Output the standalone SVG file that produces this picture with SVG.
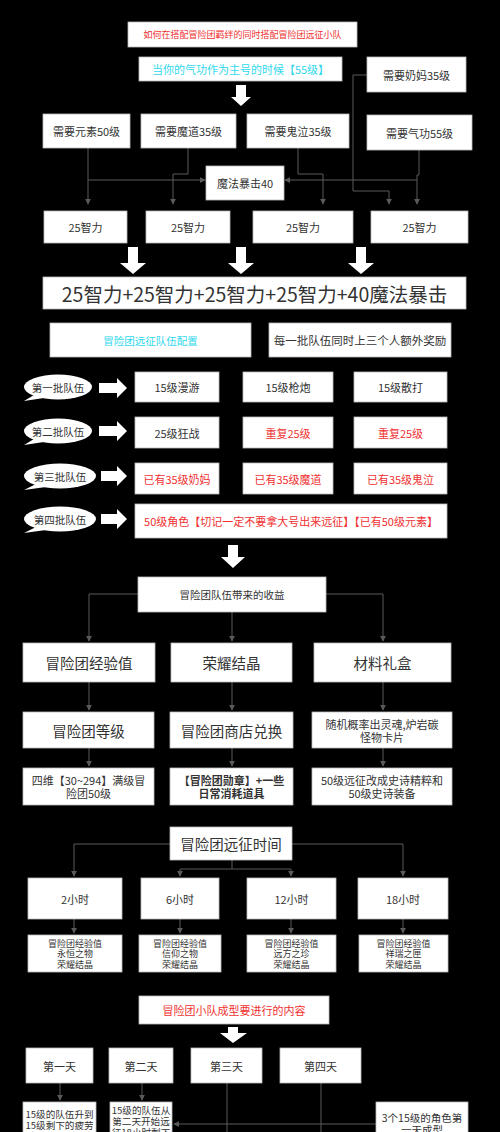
<svg xmlns="http://www.w3.org/2000/svg" width="500" height="1132" viewBox="0 0 500 1132">
<defs>
<style>
text{font-family:"Noto Sans CJK SC","Noto Sans",sans-serif;fill:#333;text-anchor:middle;dominant-baseline:central}
.box{fill:#fff;stroke:#bbb;stroke-width:0.8}
.red{fill:#f03030}
.cyan{fill:#30d8ec}
.conn{fill:none;stroke:#5a5a5a;stroke-width:1}
.blk{fill:#fff}
.s9{font-size:9px}.s95{font-size:9.6px}.s10{font-size:10.5px}.s11{font-size:11px}.s12{font-size:11.5px}.s14{font-size:14.5px}.s19{font-size:19.5px}
</style>
<marker id="ah" viewBox="0 0 8 8" refX="7" refY="4" markerWidth="6" markerHeight="6" markerUnits="userSpaceOnUse" orient="auto"><path d="M0,0 L8,4 L0,8 Z" fill="#5a5a5a"/></marker>
</defs>
<rect width="500" height="1132" fill="#000"/>

<g id="connectors">
<path class="conn" d="M367,75 H353 V191 H389 V204" marker-end="url(#ah)"/>
<path class="conn" d="M88,148 V204" marker-end="url(#ah)"/>
<path class="conn" d="M88,180 H205" marker-end="url(#ah)"/>
<path class="conn" d="M188,148 V174 H173 V204" marker-end="url(#ah)"/>
<path class="conn" d="M298,148 V174 H323 V204" marker-end="url(#ah)"/>
<path class="conn" d="M419,150 V175 H417 V204" marker-end="url(#ah)"/>
<path class="conn" d="M417,180 H285" marker-end="url(#ah)"/>

<path class="conn" d="M138,594 H89 V641" marker-end="url(#ah)"/>
<path class="conn" d="M232,612 V641" marker-end="url(#ah)"/>
<path class="conn" d="M326,594 H383 V641" marker-end="url(#ah)"/>
<path class="conn" d="M89,682 V710" marker-end="url(#ah)"/>
<path class="conn" d="M232,682 V710" marker-end="url(#ah)"/>
<path class="conn" d="M383,682 V710" marker-end="url(#ah)"/>
<path class="conn" d="M89,748 V766" marker-end="url(#ah)"/>
<path class="conn" d="M232,748 V766" marker-end="url(#ah)"/>
<path class="conn" d="M383,748 V766" marker-end="url(#ah)"/>

<path class="conn" d="M170,844 H74 V876" marker-end="url(#ah)"/>
<path class="conn" d="M292,844 H403 V876" marker-end="url(#ah)"/>
<path class="conn" d="M232,860 V869 M180,869 H291"/>
<path class="conn" d="M180,869 V876" marker-end="url(#ah)"/>
<path class="conn" d="M291,869 V876" marker-end="url(#ah)"/>
<path class="conn" d="M74,919 V933" marker-end="url(#ah)"/>
<path class="conn" d="M180,919 V933" marker-end="url(#ah)"/>
<path class="conn" d="M291,919 V933" marker-end="url(#ah)"/>
<path class="conn" d="M403,919 V933" marker-end="url(#ah)"/>

<path class="conn" d="M60,1083 V1100" marker-end="url(#ah)"/>
<path class="conn" d="M142,1083 V1100" marker-end="url(#ah)"/>
<path class="conn" d="M227,1083 V1132"/>
<path class="conn" d="M321,1083 V1132"/>
<path class="conn" d="M376,1124 H174" marker-end="url(#ah)"/>
</g>

<g id="block-arrows">
<polygon class="blk" points="236,85 246,85 246,97 251,97 241,106 231,97 236,97"/>
<polygon class="blk" points="128,247 138,247 138,263 146,263 133,274 120,263 128,263"/>
<polygon class="blk" points="236,247 246,247 246,263 254,263 241,274 228,263 236,263"/>
<polygon class="blk" points="356,247 366,247 366,263 374,263 361,274 348,263 356,263"/>
<polygon class="blk" points="228,545 238,545 238,557 245,557 233,568 221,557 228,557"/>
<polygon class="blk" points="228,1027 238,1027 238,1033 247,1033 233,1043 220,1033 228,1033"/>
<polygon class="blk" points="99,383 117,383 117,378 127,388 117,398 117,393 99,393"/>
<polygon class="blk" points="99,426 117,426 117,421 127,431 117,441 117,436 99,436"/>
<polygon class="blk" points="101,471 117,471 117,466 127,476 117,486 117,481 101,481"/>
<polygon class="blk" points="101,514 117,514 117,509 127,519 117,529 117,524 101,524"/>
</g>

<g id="n-title"><rect class="box" x="128" y="22" width="229" height="25"/><text class="s9 red" x="242.5" y="34.5">如何在搭配冒险团羁绊的同时搭配冒险团远征小队</text></g>
<g id="n-qigong"><rect class="box" x="139" y="57" width="203" height="24"/><text class="s11 cyan" x="240.5" y="69">当你的气功作为主号的时候【55级】</text></g>
<g id="n-nanny"><rect class="box" x="367" y="57" width="99" height="35"/><text class="s11" x="416.5" y="74.5">需要奶妈35级</text></g>

<g id="n-elem"><rect class="box" x="43" y="114" width="87" height="34"/><text class="s11" x="86.5" y="131">需要元素50级</text></g>
<g id="n-modao"><rect class="box" x="141" y="114" width="95" height="34"/><text class="s11" x="188.5" y="131">需要魔道35级</text></g>
<g id="n-guiqi"><rect class="box" x="247" y="114" width="102" height="34"/><text class="s11" x="298" y="131">需要鬼泣35级</text></g>
<g id="n-qg55"><rect class="box" x="367" y="115" width="105" height="35"/><text class="s11" x="419.5" y="132.5">需要气功55级</text></g>
<g id="n-crit"><rect class="box" x="206" y="166" width="78" height="34"/><text class="s11" x="245" y="183">魔法暴击40</text></g>

<g id="n-int1"><rect class="box" x="44" y="211" width="83" height="32"/><text class="s11" x="85.5" y="227">25智力</text></g>
<g id="n-int2"><rect class="box" x="146" y="211" width="84" height="32"/><text class="s11" x="188" y="227">25智力</text></g>
<g id="n-int3"><rect class="box" x="253" y="211" width="100" height="32"/><text class="s11" x="303" y="227">25智力</text></g>
<g id="n-int4"><rect class="box" x="371" y="211" width="97" height="32"/><text class="s11" x="419.5" y="227">25智力</text></g>

<g id="n-sum"><rect class="box" x="43" y="277" width="423" height="32"/><text class="s19" x="254.5" y="293">25智力+25智力+25智力+25智力+40魔法暴击</text></g>

<g id="n-config"><rect class="box" x="50" y="323" width="201" height="34"/><text class="s10 cyan" x="150.5" y="340">冒险团远征队伍配置</text></g>
<g id="n-bonus"><rect class="box" x="269" y="323" width="182" height="34"/><text class="s12" x="360" y="340">每一批队伍同时上三个人额外奖励</text></g>

<g id="n-b1"><ellipse cx="58" cy="387" rx="34" ry="12.5" fill="#fff"/><polygon fill="#fff" points="34,395 24,401 44,398"/><text class="s10" x="58" y="387">第一批队伍</text></g>
<g id="n-b2"><ellipse cx="58" cy="431" rx="34" ry="12.5" fill="#fff"/><polygon fill="#fff" points="34,439 24,445 44,442"/><text class="s10" x="58" y="431">第二批队伍</text></g>
<g id="n-b3"><ellipse cx="60" cy="476" rx="36" ry="12.5" fill="#fff"/><polygon fill="#fff" points="36,484 24,490 46,487"/><text class="s10" x="60" y="476">第三批队伍</text></g>
<g id="n-b4"><ellipse cx="60" cy="519" rx="36" ry="12.5" fill="#fff"/><polygon fill="#fff" points="36,527 24,533 46,530"/><text class="s10" x="60" y="519">第四批队伍</text></g>

<g id="n-r1a"><rect class="box" x="135" y="372" width="84" height="30"/><text class="s11" x="177" y="387">15级漫游</text></g>
<g id="n-r1b"><rect class="box" x="243" y="372" width="90" height="30"/><text class="s11" x="288" y="387">15级枪炮</text></g>
<g id="n-r1c"><rect class="box" x="354" y="372" width="93" height="30"/><text class="s11" x="400.5" y="387">15级散打</text></g>
<g id="n-r2a"><rect class="box" x="135" y="417" width="84" height="31"/><text class="s11" x="177" y="432.5">25级狂战</text></g>
<g id="n-r2b"><rect class="box" x="243" y="417" width="90" height="31"/><text class="s11 red" x="288" y="432.5">重复25级</text></g>
<g id="n-r2c"><rect class="box" x="354" y="417" width="93" height="31"/><text class="s11 red" x="400.5" y="432.5">重复25级</text></g>
<g id="n-r3a"><rect class="box" x="135" y="463" width="84" height="31"/><text class="s11 red" x="177" y="478.5">已有35级奶妈</text></g>
<g id="n-r3b"><rect class="box" x="243" y="463" width="90" height="31"/><text class="s11 red" x="288" y="478.5">已有35级魔道</text></g>
<g id="n-r3c"><rect class="box" x="354" y="463" width="93" height="31"/><text class="s11 red" x="400.5" y="478.5">已有35级鬼泣</text></g>
<g id="n-r4"><rect class="box" x="135" y="504" width="312" height="34"/><text class="s11 red" x="291" y="521">50级角色【切记一定不要拿大号出来远征】【已有50级元素】</text></g>

<g id="n-income"><rect class="box" x="138" y="577" width="188" height="35"/><text class="s10" x="232" y="594.5">冒险团队伍带来的收益</text></g>
<g id="n-exp"><rect class="box" x="23" y="643" width="132" height="39"/><text class="s14" x="89" y="662.5">冒险团经验值</text></g>
<g id="n-glory"><rect class="box" x="171" y="643" width="121" height="39"/><text class="s14" x="231.5" y="662.5">荣耀结晶</text></g>
<g id="n-gift"><rect class="box" x="314" y="643" width="137" height="39"/><text class="s14" x="382.5" y="662.5">材料礼盒</text></g>
<g id="n-level"><rect class="box" x="23" y="712" width="131" height="36"/><text class="s14" x="88.5" y="730">冒险团等级</text></g>
<g id="n-shop"><rect class="box" x="170" y="712" width="123" height="36"/><text class="s14" x="231.5" y="730">冒险团商店兑换</text></g>
<g id="n-random"><rect class="box" x="312" y="712" width="140" height="36"/><text class="s11" x="382" y="724">随机概率出灵魂,炉岩碳</text><text class="s11" x="382" y="736.5">怪物卡片</text></g>
<g id="n-stats"><rect class="box" x="23" y="768" width="131" height="37"/><text class="s11" x="88.5" y="780">四维【30~294】满级冒</text><text class="s11" x="88.5" y="793">险团50级</text></g>
<g id="n-medal"><rect class="box" x="170" y="768" width="123" height="37"/><text class="s11" x="231.5" y="780" font-weight="bold">【冒险团勋章】+一些</text><text class="s11" x="231.5" y="793" font-weight="bold">日常消耗道具</text></g>
<g id="n-epic"><rect class="box" x="312" y="768" width="140" height="37"/><text class="s11" x="382" y="780">50级远征改成史诗精粹和</text><text class="s11" x="382" y="793">50级史诗装备</text></g>

<g id="n-time"><rect class="box" x="170" y="827" width="122" height="33"/><text class="s14" x="231" y="843.5">冒险团远征时间</text></g>
<g id="n-t2"><rect class="box" x="28" y="878" width="94" height="41"/><text class="s11" x="75" y="898.5">2小时</text></g>
<g id="n-t6"><rect class="box" x="141" y="878" width="78" height="41"/><text class="s11" x="180" y="898.5">6小时</text></g>
<g id="n-t12"><rect class="box" x="247" y="878" width="89" height="41"/><text class="s11" x="291.5" y="898.5">12小时</text></g>
<g id="n-t18"><rect class="box" x="358" y="878" width="90" height="41"/><text class="s11" x="403" y="898.5">18小时</text></g>
<g id="n-rw2"><rect class="box" x="28" y="935" width="94" height="37"/><text class="s9" x="75" y="943">冒险团经验值</text><text class="s9" x="75" y="953.5">永恒之物</text><text class="s9" x="75" y="964">荣耀结晶</text></g>
<g id="n-rw6"><rect class="box" x="139" y="935" width="82" height="37"/><text class="s9" x="180" y="943">冒险团经验值</text><text class="s9" x="180" y="953.5">信仰之物</text><text class="s9" x="180" y="964">荣耀结晶</text></g>
<g id="n-rw12"><rect class="box" x="247" y="935" width="89" height="37"/><text class="s9" x="291.5" y="943">冒险团经验值</text><text class="s9" x="291.5" y="953.5">远方之珍</text><text class="s9" x="291.5" y="964">荣耀结晶</text></g>
<g id="n-rw18"><rect class="box" x="359" y="935" width="89" height="37"/><text class="s9" x="403.5" y="943">冒险团经验值</text><text class="s9" x="403.5" y="953.5">祥瑞之匣</text><text class="s9" x="403.5" y="964">荣耀结晶</text></g>

<g id="n-form"><rect class="box" x="139" y="996" width="190" height="28"/><text class="s11 red" x="234" y="1010">冒险团小队成型要进行的内容</text></g>
<g id="n-d1"><rect class="box" x="26" y="1048" width="67" height="35"/><text class="s11" x="59.5" y="1065.5">第一天</text></g>
<g id="n-d2"><rect class="box" x="109" y="1048" width="64" height="35"/><text class="s11" x="141" y="1065.5">第二天</text></g>
<g id="n-d3"><rect class="box" x="191" y="1048" width="71" height="35"/><text class="s11" x="226.5" y="1065.5">第三天</text></g>
<g id="n-d4"><rect class="box" x="280" y="1048" width="81" height="35"/><text class="s11" x="320.5" y="1065.5">第四天</text></g>
<g id="n-day1text"><rect class="box" x="23" y="1102" width="73" height="40"/><text class="s95" x="59.5" y="1113.5">15级的队伍升到</text><text class="s95" x="59.5" y="1124.7">15级剩下的疲劳</text><text class="s95" x="59.5" y="1136">去远征，2小时</text></g>
<g id="n-day2text"><rect class="box" x="110" y="1102" width="62" height="40"/><text class="s95" x="141" y="1109.5">15级的队伍从</text><text class="s95" x="141" y="1120.7">第二天开始远</text><text class="s95" x="141" y="1132">征18小时剩下</text></g>
<g id="n-form3"><rect class="box" x="376" y="1102" width="92" height="40"/><text class="s10" x="422" y="1117">3个15级的角色第</text><text class="s10" x="422" y="1129.3">一天成型</text></g>
</svg>
